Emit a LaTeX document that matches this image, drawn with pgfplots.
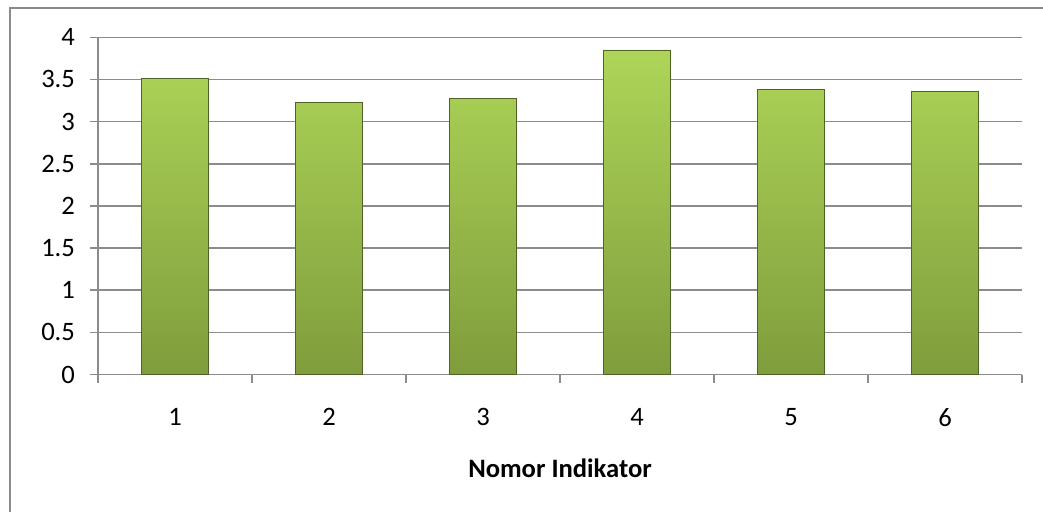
\documentclass[border=0pt]{standalone}
\usepackage{pgfplots}
\pgfplotsset{compat=1.18}
\usepackage{fontspec}
\setmainfont{Carlito}

\definecolor{framegray}{HTML}{8A8A8A}
\definecolor{gridgray}{HTML}{8C8C8C}
\definecolor{bartop}{HTML}{AED558}
\definecolor{barmid}{HTML}{9CC247}
\definecolor{barbottom}{HTML}{7F9D3C}
\definecolor{baredge}{HTML}{4F6228}

\pgfplotstableread{
idx value
1 3.51
2 3.23
3 3.28
4 3.85
5 3.38
6 3.36
}\indikator

\begin{document}
\begin{tikzpicture}
  % page size and chart frame (left and top edges)
  \path[use as bounding box] (0,0) rectangle (521.5pt,255.5pt);
  \draw[framegray, line width=1.1pt] (5pt,-10pt) -- (5pt,251.5pt) -- (540pt,251.5pt);
  \begin{axis}[
    at={(49pt,68.25pt)}, anchor=south west,
    scale only axis,
    width=462pt, height=168.6pt,
    xmin=0.5, xmax=6.5,
    ymin=0, ymax=4,
    ytick={0,0.5,...,4},
    xtick={1,...,6},
    minor xtick={0.5,1.5,...,6.5},
    axis x line*=bottom,
    axis y line*=left,
    axis line style={gridgray, line width=0.75pt, -},
    tick align=outside,
    major tick length=4pt,
    minor tick length=4pt,
    major x tick style={draw=none},
    minor x tick style={gridgray, line width=0.75pt},
    major y tick style={gridgray, line width=0.75pt},
    ymajorgrids,
    major grid style={gridgray, line width=0.75pt},
    tick label style={font=\fontsize{13.3}{16}\selectfont, text=black},
    /pgf/number format/assume math mode=true,
    yticklabel style={xshift=-4pt},
    xticklabel style={yshift=-9.5pt},
    xlabel={Nomor Indikator},
    every axis x label/.style={at={(axis description cs:0.5,0)}, anchor=center, yshift=-47pt, font=\fontsize{13.3}{16}\selectfont\bfseries},
    clip=false,
  ]
    \addplot[ybar, bar width=0.44, bar shift=0pt,
      shading=axis, top color=bartop, middle color=barmid, bottom color=barbottom,
      draw=baredge, line width=0.4pt]
      table[x=idx, y=value] {\indikator};
  \end{axis}
\end{tikzpicture}
\end{document}
